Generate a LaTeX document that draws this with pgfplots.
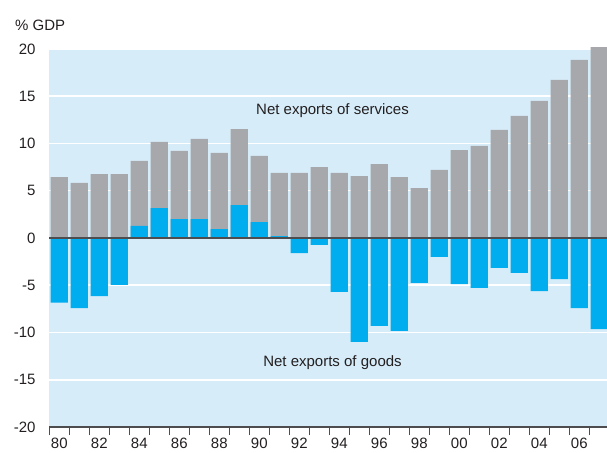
\documentclass[border=0pt]{standalone}
\usepackage{fontspec}
\setmainfont{Liberation Sans}
\usepackage{pgfplots}
\usepackage{pgfplotstable}
\pgfplotsset{compat=1.18}

\definecolor{bgblue}{HTML}{D6ECF9}
\definecolor{svcgray}{HTML}{A7A8AC}
\definecolor{goodsblue}{HTML}{00AEEF}
\definecolor{axisgray}{HTML}{4D4D4F}
\definecolor{txt}{HTML}{231F20}

% top = top of the grey bar, goods = net exports of goods (% GDP)
\pgfplotstableread{
year top goods
1980 6.45 -6.84
1981 5.82 -7.41
1982 6.77 -6.14
1983 6.77 -4.97
1984 8.15 1.27
1985 10.16 3.17
1986 9.21 2.01
1987 10.48 2.01
1988 9.00 0.95
1989 11.53 3.49
1990 8.68 1.69
1991 6.88 0.21
1992 6.88 -1.59
1993 7.51 -0.74
1994 6.88 -5.71
1995 6.56 -11.00
1996 7.83 -9.31
1997 6.45 -9.84
1998 5.29 -4.76
1999 7.20 -2.01
2000 9.31 -4.87
2001 9.74 -5.29
2002 11.43 -3.17
2003 12.91 -3.70
2004 14.50 -5.61
2005 16.72 -4.34
2006 18.84 -7.41
2007 20.20 -9.63
}\netexports

\begin{document}
\begin{tikzpicture}[every node/.style={font=\fontsize{15}{18}\selectfont, text=txt}]
  \begin{axis}[
      name=ax,
      scale only axis,
      width=558pt, height=378pt,
      xmin=1979.485, xmax=2007.385,
      ymin=-20, ymax=20,
      clip=false,
      axis background/.style={fill=bgblue},
      axis x line*=bottom,
      axis y line*=left,
      x axis line style={draw=axisgray, line width=1.2pt, -},
      y axis line style={draw=none},
      ytick={-20,-15,...,20},
      yticklabels={-20,-15,-10,-5,0,5,10,15,20},
      ytick style={draw=none},
      ymajorgrids,
      grid style={white, line width=1.5pt},
      xtick={1980,1982,...,2006},
      xticklabels={80,82,84,86,88,90,92,94,96,98,00,02,04,06},
      minor xtick={1979.5,1980.5,...,2007.5},
      tick align=inside,
      major tick length=0pt,
      minor tick length=8pt,
      every minor tick/.style={axisgray, line width=1pt},
      xticklabel style={yshift=-7.5pt},
      yticklabel style={xshift=-10pt},
      ybar,
      bar width=0.865,
    ]
    \addplot[fill=svcgray, draw=none, bar shift=0pt] table[x=year, y=top] {\netexports};
    \addplot[fill=goodsblue, draw=none, bar shift=0pt] table[x=year, y=goods] {\netexports};
    \draw[axisgray, line width=1.6pt] (axis cs:1979.485,0) -- (axis cs:2007.385,0);
    \node at (axis cs:1993.66,13.44) {Net exports of services};
    \node at (axis cs:1993.66,-13.2) {Net exports of goods};
    \coordinate (sw) at (rel axis cs:0,0);
    \coordinate (ne) at (rel axis cs:1,1);
  \end{axis}
  \node[anchor=west, inner sep=0pt] at ([xshift=-34pt, yshift=24pt]sw |- ne) {\% GDP};
  \pgfresetboundingbox
  \useasboundingbox ([xshift=-49pt, yshift=-25pt]sw) rectangle ([yshift=49pt]ne);
\end{tikzpicture}
\end{document}
